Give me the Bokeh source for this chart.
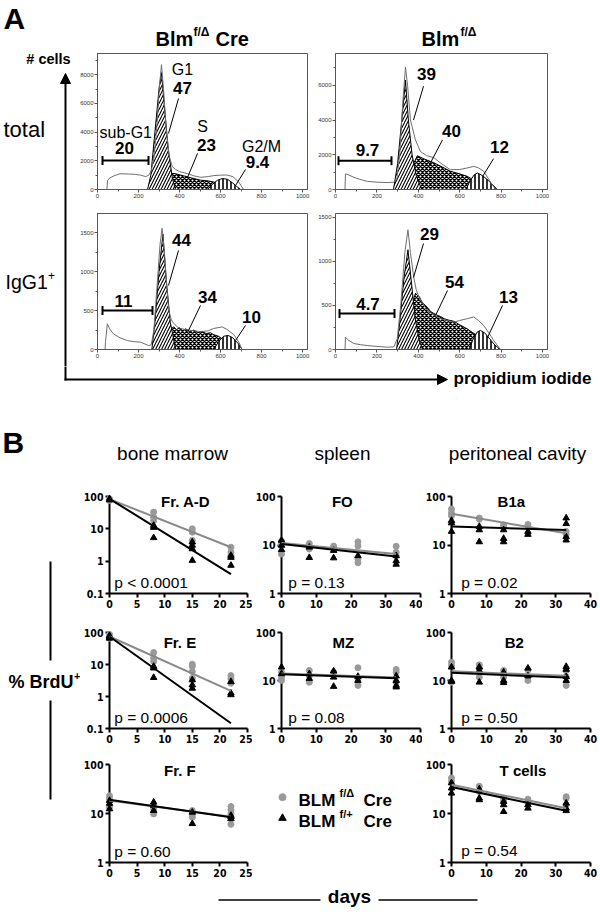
import numpy as np
from bokeh.plotting import figure
from bokeh.layouts import row, column
from bokeh.models import Range1d, FixedTicker, NumeralTickFormatter, Arrow, NormalHead
from bokeh.core.properties import value
from bokeh.embed import file_html
from bokeh.resources import INLINE

SANS = "Liberation Sans"
NARROW = "Liberation Sans Narrow, DejaVu Sans Condensed, Liberation Sans"

# ---------------- Panel A data (PI histograms) ----------------
CHANNEL_TICKS = [0, 200, 400, 600, 800, 1000]
H1_YTICKS = [0, 2000, 4000, 6000, 8000]
H2_YTICKS = [0, 2000, 4000, 6000]
H34_YTICKS = [0, 500, 1000, 1500]

# Blm f/D Cre, total
H1_TOTAL_X = [0, 46, 49, 60, 80, 110, 150, 180, 210, 235, 250, 262, 275, 290, 302, 312, 322, 335, 350, 365, 380, 400, 440, 470, 503, 540, 567, 600, 630, 660, 690, 712, 1024]
H1_TOTAL_Y = [0, 0, 650, 800, 950, 1100, 1080, 1060, 1000, 900, 1000, 1300, 2200, 4500, 7200, 8700, 7000, 4200, 2300, 1600, 1400, 1250, 1100, 950, 850, 900, 970, 1000, 1010, 900, 500, 0, 0]
H1_G1_X = [244, 260, 280, 300, 312, 325, 345, 365, 380]
H1_G1_Y = [0, 1000, 4000, 7000, 8150, 6000, 2800, 800, 0]
H1_S_X = [290, 320, 347, 380, 420, 460, 503, 540, 567, 600, 630, 664]
H1_S_Y = [0, 500, 1150, 1100, 950, 800, 650, 600, 520, 420, 250, 0]
H1_G2_X = [537, 560, 585, 610, 635, 660, 680, 698]
H1_G2_Y = [0, 350, 650, 770, 700, 450, 200, 0]

# Blm f/D, total
H2_TOTAL_X = [0, 46, 48, 60, 80, 100, 130, 153, 200, 250, 281, 296, 310, 325, 338, 348, 362, 386, 410, 440, 475, 510, 555, 600, 636, 668, 690, 716, 745, 773, 1024]
H2_TOTAL_Y = [0, 0, 900, 860, 750, 650, 540, 470, 420, 400, 420, 600, 2000, 5000, 7050, 6000, 4000, 2860, 2190, 1950, 1830, 1500, 1140, 1150, 1240, 1330, 1250, 1050, 500, 0, 0]
H2_G1_X = [280, 300, 320, 338, 352, 370, 390, 416]
H2_G1_Y = [0, 1500, 4000, 6300, 4000, 2000, 800, 0]
H2_S_X = [323, 345, 370, 395, 430, 475, 515, 555, 600, 636, 670, 700, 732]
H2_S_Y = [0, 600, 1300, 1940, 1750, 1540, 1300, 1050, 900, 760, 520, 290, 0]
H2_G2_X = [630, 650, 670, 686, 710, 740, 765, 781]
H2_G2_Y = [0, 500, 850, 950, 800, 500, 200, 0]

# Blm f/D Cre, IgG1+
H3_TOTAL_X = [0, 37, 39, 48, 60, 78, 110, 145, 180, 210, 250, 262, 275, 290, 305, 315, 325, 338, 348, 360, 373, 390, 405, 440, 470, 503, 540, 567, 608, 630, 665, 690, 705, 1024]
H3_TOTAL_Y = [0, 0, 100, 330, 260, 200, 150, 115, 100, 94, 50, 60, 250, 800, 1350, 1555, 1300, 800, 500, 380, 330, 290, 270, 250, 240, 230, 240, 270, 290, 260, 190, 90, 0, 0]
H3_G1_X = [265, 280, 300, 319, 335, 355, 381]
H3_G1_Y = [0, 350, 1000, 1480, 900, 350, 0]
H3_S_X = [315, 330, 348, 360, 372, 385, 400, 415, 430, 450, 470, 490, 510, 530, 550, 567, 590, 616, 645]
H3_S_Y = [0, 150, 295, 270, 290, 255, 280, 240, 265, 230, 250, 215, 230, 205, 215, 190, 170, 120, 0]
H3_G2_X = [567, 590, 615, 637, 660, 685, 705]
H3_G2_Y = [0, 100, 170, 180, 150, 80, 0]

# Blm f/D, IgG1+
H4_TOTAL_X = [0, 46, 48, 60, 88, 120, 153, 200, 250, 282, 298, 315, 335, 350, 362, 378, 390, 403, 420, 443, 470, 507, 540, 572, 600, 636, 668, 690, 717, 740, 765, 797, 1024]
H4_TOTAL_Y = [0, 0, 140, 110, 68, 55, 45, 35, 26, 30, 120, 500, 1100, 1360, 1100, 820, 680, 595, 530, 443, 400, 350, 330, 310, 330, 350, 370, 330, 270, 190, 100, 0, 0]
H4_G1_X = [295, 310, 330, 350, 365, 385, 405, 420]
H4_G1_Y = [0, 300, 800, 1133, 800, 350, 100, 0]
H4_S_X = [322, 340, 360, 375, 387, 395, 405, 415, 425, 443, 460, 475, 490, 507, 525, 545, 572, 600, 636, 660, 685, 710, 733, 765]
H4_S_Y = [0, 200, 420, 560, 640, 614, 600, 550, 520, 480, 430, 410, 390, 375, 350, 335, 320, 280, 235, 195, 160, 110, 65, 0]
H4_G2_X = [645, 665, 685, 700, 720, 745, 770, 797]
H4_G2_Y = [0, 120, 200, 216, 190, 120, 50, 0]

# ---------------- Panel B data (% BrdU+ vs days) ----------------
BM_XTICKS = [0, 5, 10, 15, 20, 25]
SP_XTICKS = [0, 10, 20, 30, 40]
FIT_X_BM = [0, 22]
FIT_X_SP = [0, 33]

FRAD_GRAY_X = [0, 0, 0, 8, 8, 8, 15, 15, 15, 22, 22, 22]
FRAD_GRAY_Y = [85, 80, 75, 33, 23, 18, 10, 7.9, 4.4, 2.7, 1.9, 1.5]
FRAD_BLACK_X = [0, 0, 8, 8, 8, 15, 15, 15, 15, 22, 22, 22]
FRAD_BLACK_Y = [85, 78, 12.7, 11, 5.3, 3.9, 3.1, 2.4, 1.05, 1.5, 1.3, 0.74]
FRAD_FIT_GRAY = [83, 2.7]
FRAD_FIT_BLACK = [85, 0.4]

FRE_GRAY_X = [0, 0, 8, 8, 8, 15, 15, 15, 15, 22, 22, 22]
FRE_GRAY_Y = [87, 66, 23.7, 15.8, 12.4, 10.2, 8.7, 6, 3.7, 4.5, 3.6, 2.6]
FRE_BLACK_X = [0, 0, 0, 8, 8, 8, 15, 15, 15, 22, 22, 22]
FRE_BLACK_Y = [80, 72, 66, 8.7, 7.7, 3.9, 3.3, 2.3, 1.8, 2.9, 1.27, 1.13]
FRE_FIT_GRAY = [75, 1.5]
FRE_FIT_BLACK = [75, 0.146]

FRF_GRAY_X = [0, 0, 0, 8, 8, 15, 15, 15, 22, 22, 22, 22]
FRF_GRAY_Y = [23, 20, 13.4, 12.3, 9.8, 11.5, 9.6, 8.4, 13.9, 11.9, 9.8, 6]
FRF_BLACK_X = [0, 0, 0, 8, 8, 8, 15, 15, 22, 22, 22]
FRF_BLACK_Y = [18.4, 16, 12.4, 17, 14.5, 11.5, 10.6, 6.2, 9.1, 8.5, 7.8]
FRF_FIT_GRAY = [18.5, 8.6]
FRF_FIT_BLACK = [19, 8.4]

FO_GRAY_X = [0, 0, 0, 8, 8, 15, 15, 22, 22, 22, 22, 33, 33, 33]
FO_GRAY_Y = [12, 10.5, 6.5, 10.7, 8.3, 9.5, 8.3, 11.6, 9.5, 5.1, 4.3, 9.4, 7.1, 6]
FO_BLACK_X = [0, 0, 0, 8, 8, 15, 15, 22, 33, 33, 33]
FO_BLACK_Y = [12.5, 9.8, 8, 9, 5.5, 7.7, 5.4, 6, 6, 4.7, 4]
FO_FIT_GRAY = [11, 6.5]
FO_FIT_BLACK = [10.5, 5.8]

B1A_GRAY_X = [0, 0, 0, 8, 8, 15, 15, 22, 22, 33, 33]
B1A_GRAY_Y = [55, 46, 40, 36, 34, 26, 23, 26.5, 24, 19, 16.5]
B1A_BLACK_X = [0, 0, 0, 8, 8, 8, 15, 15, 15, 22, 22, 33, 33, 33, 33]
B1A_BLACK_Y = [32, 28.5, 19, 24, 20.5, 11.6, 20.5, 13.6, 11.6, 19, 16.5, 36, 27.5, 14.8, 12.6]
B1A_FIT_GRAY = [44, 17.4]
B1A_FIT_BLACK = [24, 20.5]

MZ_GRAY_X = [0, 0, 0, 8, 8, 8, 15, 22, 22, 22, 33, 33, 33]
MZ_GRAY_Y = [14.9, 11.7, 10, 16.2, 12.5, 9.2, 14.9, 18.4, 10.8, 7.9, 17, 14.9, 9.2]
MZ_BLACK_X = [0, 0, 8, 8, 15, 15, 15, 22, 22, 33, 33, 33, 33]
MZ_BLACK_Y = [19, 13.8, 13.8, 11, 15.7, 11.7, 7.5, 12.1, 10, 12.4, 10, 7.9, 7.3]
MZ_FIT_GRAY = [14, 11.6]
MZ_FIT_BLACK = [13.5, 11.2]

B2_GRAY_X = [0, 0, 0, 8, 8, 8, 15, 15, 22, 22, 33, 33, 33]
B2_GRAY_Y = [24, 20.5, 9.2, 21.2, 18.1, 11.7, 16.2, 11.7, 16.5, 10, 16, 12, 7.9]
B2_BLACK_X = [0, 0, 0, 8, 8, 8, 15, 15, 15, 22, 22, 33, 33, 33, 33]
B2_BLACK_Y = [19, 10, 9.5, 19, 16.2, 9.2, 14.9, 10, 9, 18, 12.4, 19.5, 17, 12, 10]
B2_FIT_GRAY = [15.5, 12.5]
B2_FIT_BLACK = [14.5, 11.5]

TC_GRAY_X = [0, 0, 8, 8, 15, 15, 22, 22, 33, 33, 33]
TC_GRAY_Y = [53, 45, 36, 28, 20.5, 18, 19.6, 16.5, 22, 20.5, 15]
TC_BLACK_X = [0, 0, 0, 8, 8, 8, 15, 15, 15, 22, 22, 33, 33, 33]
TC_BLACK_Y = [42, 33, 26, 31.5, 20.5, 19, 17.5, 15, 10.9, 15, 12.8, 16.2, 12.8, 11.4]
TC_FIT_GRAY = [38.6, 12.8]
TC_FIT_BLACK = [34.6, 11.4]

GRAY = "#9a9a9a"
GRAY_LINE = "#8a8a8a"


# ---------------- helpers ----------------
def base_fig(w, h, **kw):
    p = figure(width=w, height=h, toolbar_location=None, output_backend="svg", **kw)
    p.grid.visible = False
    p.background_fill_color = "white"
    p.border_fill_color = "white"
    return p


def strip(ox, oy, w, h):
    p = base_fig(w, h, x_range=Range1d(0, w), y_range=Range1d(h, 0),
                 min_border_left=0, min_border_right=0, min_border_top=0, min_border_bottom=0,
                 x_axis_location=None, y_axis_location=None)
    p.outline_line_color = None
    return p, (lambda X, Y: (X - ox, Y - oy))


def put_text(p, conv, X, Y, s, size, bold=False, align="left", color="black", font=SANS):
    # Y is the wanted baseline; the renderer places the em-middle at y
    x, y = conv(X, Y - 0.3465 * size)
    r = p.text(x=[x], y=[y], text=[s], text_font=value(font),
               text_font_size=value(f"{size}px"),
               text_font_style="bold" if bold else "normal",
               text_align=align, text_baseline="alphabetic", text_color=color)
    r.level = "overlay"
    return r


def put_seg(p, conv, X0, Y0, X1, Y1, width=1.0, color="black"):
    x0, y0 = conv(X0, Y0)
    x1, y1 = conv(X1, Y1)
    r = p.segment(x0=[x0], y0=[y0], x1=[x1], y1=[y1], line_width=width, line_color=color)
    r.level = "overlay"
    return r


def lin_conv(fx0, fx1, fy0, fy1, x0, x1, y0, y1):
    def f(X, Y):
        return (x0 + (X - fx0) / (fx1 - fx0) * (x1 - x0),
                y0 + (fy1 - Y) / (fy1 - fy0) * (y1 - y0))
    return f


def log_conv(fx0, fx1, fy0, fy1, x0, x1, y0, y1):
    def f(X, Y):
        ly = np.log10(y0) + (fy1 - Y) / (fy1 - fy0) * (np.log10(y1) - np.log10(y0))
        return (x0 + (X - fx0) / (fx1 - fx0) * (x1 - x0), 10 ** ly)
    return f


def hist_fig(ox, oy, w, h, left, right, top, bottom, ymax, yticks,
             tx, ty, g1x, g1y, sx, sy, g2x, g2y):
    p = base_fig(w, h, x_range=Range1d(0, 1024), y_range=Range1d(0, ymax),
                 min_border_left=left, min_border_right=right,
                 min_border_top=top, min_border_bottom=bottom)
    p.outline_line_color = "#555555"
    p.outline_line_width = 1
    step = yticks[1] - yticks[0]
    p.xaxis.ticker = FixedTicker(ticks=CHANNEL_TICKS, minor_ticks=[100, 300, 500, 700, 900])
    p.yaxis.ticker = FixedTicker(ticks=yticks, minor_ticks=[t + step / 2 for t in yticks])
    for ax in (p.xaxis[0], p.yaxis[0]):
        ax.axis_line_color = "#555555"
        ax.major_tick_line_color = "#555555"
        ax.minor_tick_line_color = "#555555"
        ax.major_tick_in = 0
        ax.major_tick_out = 3
        ax.minor_tick_in = 0
        ax.minor_tick_out = 2
        ax.major_label_text_font = SANS
        ax.major_label_text_font_size = "6px"
        ax.major_label_text_color = "#333333"
        ax.major_label_standoff = 1
    p.patch(sx, sy, fill_color="white", line_color="black", line_width=1,
            hatch_pattern="x", hatch_scale=4, hatch_weight=1.4, hatch_color="black")
    p.patch(g2x, g2y, fill_color="white", line_color="black", line_width=1,
            hatch_pattern="|", hatch_scale=4, hatch_weight=1.6, hatch_color="black")
    p.patch(g1x, g1y, fill_color="white", line_color="black", line_width=1,
            hatch_pattern="/", hatch_scale=6, hatch_weight=1.1, hatch_color="black")
    p.line(tx, ty, line_color="#6e6e6e", line_width=1)
    conv = lin_conv(ox + left, ox + w - right, oy + top, oy + h - bottom, 0, 1024, 0, ymax)
    return p, conv


def brdu_fig(ox, oy, w, h, left, right, top, bottom, xmax, xticks, ylo, yhi,
             gx, gy, bx, by, fit_x, fit_g, fit_b, title, tX, tY, pval, pX, pY):
    p = base_fig(w, h, x_range=Range1d(0, xmax), y_range=Range1d(ylo, yhi), y_axis_type="log",
                 min_border_left=left, min_border_right=right,
                 min_border_top=top, min_border_bottom=bottom)
    p.outline_line_color = None
    p.xaxis.ticker = FixedTicker(ticks=xticks)
    p.yaxis.ticker = FixedTicker(ticks=[t for t in [0.1, 1, 10, 100] if ylo <= t <= yhi])
    p.yaxis.formatter = NumeralTickFormatter(format="0.[0]")
    for ax in (p.xaxis[0], p.yaxis[0]):
        ax.axis_line_width = 2
        ax.axis_line_color = "black"
        ax.major_tick_line_width = 2
        ax.major_tick_in = 0
        ax.major_tick_out = 4
        ax.minor_tick_line_color = None
        ax.major_label_text_font = NARROW
        ax.major_label_text_font_style = "bold"
        ax.major_label_text_font_size = "10.5px"
        ax.major_label_text_color = "black"
        ax.major_label_standoff = 2
    r = p.scatter(gx, gy, marker="circle", size=6, fill_color=GRAY, line_color=GRAY)
    r.level = "overlay"
    r = p.scatter(bx, by, marker="triangle", size=6.5, fill_color="black", line_color="black")
    r.level = "overlay"
    r = p.line(fit_x, fit_g, line_color=GRAY_LINE, line_width=2)
    r.level = "overlay"
    r = p.line(fit_x, fit_b, line_color="black", line_width=2)
    r.level = "overlay"
    conv = log_conv(ox + left, ox + w - right, oy + top, oy + h - bottom, 0, xmax, ylo, yhi)
    put_text(p, conv, tX, tY, title, 15, bold=True, align="center")
    put_text(p, conv, pX, pY, pval, 15.5)
    return p


# ---------------- Panel A ----------------
top, tc = strip(0, 0, 600, 50)
put_text(top, tc, 3, 28, "A", 30, bold=True)
put_text(top, tc, 155, 45, "Blm", 20, bold=True)
put_text(top, tc, 193, 36, "f/\u0394", 12, bold=True)
put_text(top, tc, 215, 45, "Cre", 20, bold=True)
put_text(top, tc, 421, 45, "Blm", 20, bold=True)
put_text(top, tc, 460, 36, "f/\u0394", 12, bold=True)

leftA, lc = strip(0, 50, 72, 316)
put_text(leftA, lc, 48, 64, "# cells", 14.5, bold=True, align="center")
put_text(leftA, lc, 3, 137, "total", 22)
put_text(leftA, lc, 5, 288, "IgG1", 19.5)
put_text(leftA, lc, 47.5, 279, "+", 12)
leftA.add_layout(Arrow(end=NormalHead(size=10, fill_color="black", line_color="black"),
                       x_start=lc(65, 0)[0], y_start=lc(0, 366)[1],
                       x_end=lc(65, 0)[0], y_end=lc(0, 73)[1], line_width=2))

h1, c1 = hist_fig(72, 50, 240, 155, 25, 5, 3, 16, 9480, H1_YTICKS,
                  H1_TOTAL_X, H1_TOTAL_Y, H1_G1_X, H1_G1_Y, H1_S_X, H1_S_Y, H1_G2_X, H1_G2_Y)
put_text(h1, c1, 99, 138, "sub-G1", 16)
put_text(h1, c1, 124, 153, "20", 17, bold=True, align="center")
put_seg(h1, c1, 102, 160, 148, 160, 2)
put_seg(h1, c1, 102, 155.5, 102, 164.5, 2)
put_seg(h1, c1, 148, 155.5, 148, 164.5, 2)
put_text(h1, c1, 182, 75, "G1", 16, align="center")
put_text(h1, c1, 182, 93, "47", 17, bold=True, align="center")
put_seg(h1, c1, 178, 98, 168, 133)
put_text(h1, c1, 202, 132, "S", 16, align="center")
put_text(h1, c1, 206, 150, "23", 17, bold=True, align="center")
put_seg(h1, c1, 197, 153, 187, 177)
put_text(h1, c1, 261, 152, "G2/M", 16, align="center")
put_text(h1, c1, 257, 167, "9.4", 17, bold=True, align="center")
put_seg(h1, c1, 245, 169, 235, 185)

h2, c2 = hist_fig(312, 50, 288, 155, 23, 53, 3, 15, 7830, H2_YTICKS,
                  H2_TOTAL_X, H2_TOTAL_Y, H2_G1_X, H2_G1_Y, H2_S_X, H2_S_Y, H2_G2_X, H2_G2_Y)
put_text(h2, c2, 367, 156, "9.7", 17, bold=True, align="center")
put_seg(h2, c2, 338, 161, 391, 161, 2)
put_seg(h2, c2, 338, 156.5, 338, 165.5, 2)
put_seg(h2, c2, 391, 156.5, 391, 165.5, 2)
put_text(h2, c2, 426, 80, "39", 17, bold=True, align="center")
put_seg(h2, c2, 423, 86, 413, 120)
put_text(h2, c2, 451, 137, "40", 17, bold=True, align="center")
put_seg(h2, c2, 442, 140, 428, 167)
put_text(h2, c2, 499, 153, "12", 17, bold=True, align="center")
put_seg(h2, c2, 493, 159, 482, 177)

h3, c3 = hist_fig(72, 205, 240, 161, 25, 5, 8, 17, 1745, H34_YTICKS,
                  H3_TOTAL_X, H3_TOTAL_Y, H3_G1_X, H3_G1_Y, H3_S_X, H3_S_Y, H3_G2_X, H3_G2_Y)
put_text(h3, c3, 123, 306, "11", 17, bold=True, align="center")
put_seg(h3, c3, 102, 310, 152, 310, 2)
put_seg(h3, c3, 102, 305.5, 102, 314.5, 2)
put_seg(h3, c3, 152, 305.5, 152, 314.5, 2)
put_text(h3, c3, 181, 245, "44", 17, bold=True, align="center")
put_seg(h3, c3, 178, 250, 168, 285)
put_text(h3, c3, 207, 302, "34", 17, bold=True, align="center")
put_seg(h3, c3, 200, 305, 187, 332)
put_text(h3, c3, 251, 322, "10", 17, bold=True, align="center")
put_seg(h3, c3, 245, 325, 235, 340)

h4, c4 = hist_fig(312, 205, 288, 161, 23, 53, 8, 17, 1545, H34_YTICKS,
                  H4_TOTAL_X, H4_TOTAL_Y, H4_G1_X, H4_G1_Y, H4_S_X, H4_S_Y, H4_G2_X, H4_G2_Y)
put_text(h4, c4, 367.5, 309, "4.7", 17, bold=True, align="center")
put_seg(h4, c4, 339, 313, 394, 313, 2)
put_seg(h4, c4, 339, 308.5, 339, 317.5, 2)
put_seg(h4, c4, 394, 308.5, 394, 317.5, 2)
put_text(h4, c4, 429, 239, "29", 17, bold=True, align="center")
put_seg(h4, c4, 423, 243, 413, 277)
put_text(h4, c4, 454, 287, "54", 17, bold=True, align="center")
put_seg(h4, c4, 447, 290, 435, 315)
put_text(h4, c4, 508, 302, "13", 17, bold=True, align="center")
put_seg(h4, c4, 502, 305, 487, 337)

abot, ac = strip(0, 366, 600, 26)
put_seg(abot, ac, 65, 366, 65, 380, 2)
abot.add_layout(Arrow(end=NormalHead(size=10, fill_color="black", line_color="black"),
                      x_start=ac(64, 0)[0], y_start=ac(0, 379)[1],
                      x_end=ac(447, 0)[0], y_end=ac(0, 379)[1], line_width=2))
put_text(abot, ac, 453, 384, "propidium iodide", 17, bold=True)

# ---------------- Panel B ----------------
bhead, bc = strip(0, 392, 600, 96)
put_text(bhead, bc, 2, 452, "B", 30, bold=True)
put_text(bhead, bc, 172, 460, "bone marrow", 19, align="center")
put_text(bhead, bc, 342, 460, "spleen", 19, align="center")
put_text(bhead, bc, 517, 460, "peritoneal cavity", 19, align="center")

leftB, lbc = strip(0, 488, 80, 392)
put_seg(leftB, lbc, 50, 561, 50, 660, 2)
put_seg(leftB, lbc, 50, 700, 50, 799, 2)
put_text(leftB, lbc, 8, 688, "% BrdU", 18, bold=True)
put_text(leftB, lbc, 73.5, 679, "+", 11, bold=True)

bm1 = brdu_fig(80, 488, 172, 134, 22, 5, 8, 29, 25, BM_XTICKS, 0.1, 100,
               FRAD_GRAY_X, FRAD_GRAY_Y, FRAD_BLACK_X, FRAD_BLACK_Y, FIT_X_BM,
               FRAD_FIT_GRAY, FRAD_FIT_BLACK, "Fr. A-D", 182, 506, "p < 0.0001", 107, 587)
sp1 = brdu_fig(252, 488, 170, 134, 24, 2, 8, 29, 40, SP_XTICKS, 1, 100,
               FO_GRAY_X, FO_GRAY_Y, FO_BLACK_X, FO_BLACK_Y, FIT_X_SP,
               FO_FIT_GRAY, FO_FIT_BLACK, "FO", 339, 506, "p = 0.13", 283, 587)
pc1 = brdu_fig(422, 488, 178, 134, 24, 10, 8, 29, 40, SP_XTICKS, 1, 100,
               B1A_GRAY_X, B1A_GRAY_Y, B1A_BLACK_X, B1A_BLACK_Y, FIT_X_SP,
               B1A_FIT_GRAY, B1A_FIT_BLACK, "B1a", 508, 506, "p = 0.02", 456, 587)

bm2 = brdu_fig(80, 622, 172, 132, 22, 5, 10, 26, 25, BM_XTICKS, 0.1, 100,
               FRE_GRAY_X, FRE_GRAY_Y, FRE_BLACK_X, FRE_BLACK_Y, FIT_X_BM,
               FRE_FIT_GRAY, FRE_FIT_BLACK, "Fr. E", 176, 647, "p = 0.0006", 107, 722)
sp2 = brdu_fig(252, 622, 170, 132, 24, 2, 10, 26, 40, SP_XTICKS, 1, 100,
               MZ_GRAY_X, MZ_GRAY_Y, MZ_BLACK_X, MZ_BLACK_Y, FIT_X_SP,
               MZ_FIT_GRAY, MZ_FIT_BLACK, "MZ", 340, 647, "p = 0.08", 283, 722)
pc2 = brdu_fig(422, 622, 178, 132, 24, 10, 10, 26, 40, SP_XTICKS, 1, 100,
               B2_GRAY_X, B2_GRAY_Y, B2_BLACK_X, B2_BLACK_Y, FIT_X_SP,
               B2_FIT_GRAY, B2_FIT_BLACK, "B2", 511, 647, "p = 0.50", 456, 722)

bm3 = brdu_fig(80, 754, 172, 126, 22, 5, 10, 18, 25, BM_XTICKS, 1, 100,
               FRF_GRAY_X, FRF_GRAY_Y, FRF_BLACK_X, FRF_BLACK_Y, FIT_X_BM,
               FRF_FIT_GRAY, FRF_FIT_BLACK, "Fr. F", 176, 775, "p = 0.60", 107, 856)
leg, gc = strip(252, 754, 170, 126)
leg.scatter([gc(282, 0)[0]], [gc(0, 796)[1]], marker="circle", size=7, fill_color=GRAY, line_color=GRAY)
leg.scatter([gc(282, 0)[0]], [gc(0, 823)[1]], marker="triangle", size=7.5, fill_color="black", line_color="black")
put_text(leg, gc, 298, 806, "BLM", 17, bold=True)
put_text(leg, gc, 339, 795, "f/\u0394", 11, bold=True)
put_text(leg, gc, 363, 806, "Cre", 17, bold=True)
put_text(leg, gc, 298, 833, "BLM", 17, bold=True)
put_text(leg, gc, 339, 822, "f/+", 11, bold=True)
put_text(leg, gc, 363, 833, "Cre", 17, bold=True)
tcf = brdu_fig(422, 754, 178, 126, 24, 10, 10, 18, 40, SP_XTICKS, 1, 100,
               TC_GRAY_X, TC_GRAY_Y, TC_BLACK_X, TC_BLACK_Y, FIT_X_SP,
               TC_FIT_GRAY, TC_FIT_BLACK, "T cells", 520, 775, "p = 0.54", 456, 855)

bbot, bbc = strip(0, 880, 600, 36)
put_seg(bbot, bbc, 218, 899.5, 320, 899.5, 1.5)
put_seg(bbot, bbc, 378, 899.5, 477, 899.5, 1.5)
put_text(bbot, bbc, 349, 903, "days", 19, bold=True, align="center")

layout = column(
    top,
    row(leftA, column(row(h1, h2), row(h3, h4))),
    abot,
    bhead,
    row(leftB, column(row(bm1, sp1, pc1), row(bm2, sp2, pc2), row(bm3, leg, tcf))),
    bbot,
)

open("out.html", "w").write(file_html(layout, INLINE))
